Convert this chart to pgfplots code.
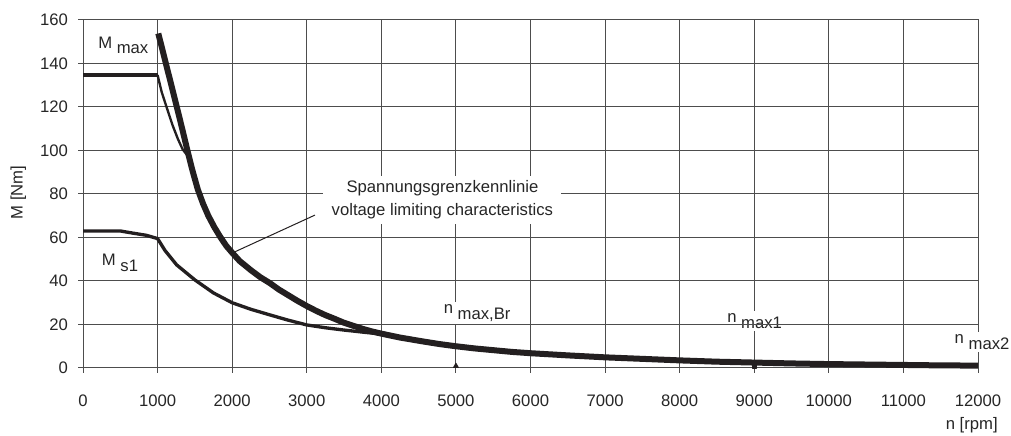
\documentclass[border=0pt]{standalone}
\usepackage{fontspec}
\setmainfont{Liberation Sans}
\usepackage{pgfplots}
\pgfplotsset{compat=1.18}
\definecolor{ink}{HTML}{231F20}
\definecolor{gridc}{HTML}{4D4D4D}
\definecolor{txt}{HTML}{262626}

\begin{document}
\begin{tikzpicture}[font=\fontsize{10}{12}\selectfont]
\begin{axis}[
    at={(0,0)}, anchor=south west,
    scale only axis, width=537pt, height=208.8pt,
    xmin=0, xmax=12000, ymin=0, ymax=160,
    xtick={0,1000,...,12000},
    ytick={0,20,...,160},
    scaled x ticks=false,
    /pgf/number format/.cd, 1000 sep={}, assume math mode=true, /pgfplots/.cd,
    tick label style={font=\fontsize{10}{12}\selectfont, text=txt},
    xticklabel style={yshift=-9.6pt},
    yticklabel style={xshift=-2.5pt},
    tick pos=left, tick align=outside, major tick length=3pt,
    grid=major,
    grid style={gridc, line width=0.6pt},
    axis line style={gridc, line width=0.6pt},
    tick style={gridc, line width=0.6pt},
    clip=false,
    every axis plot/.append style={line join=round},
]
% M_s1
\addplot[ink, line width=2pt] coordinates {
    (0,63) (500,63) (670,62) (850,61) (1000,59.5)
    (1100,54) (1256,47.4) (1500,40.5) (1750,34.5) (2000,30)
    (2250,27) (2507,24.4) (2750,22) (3000,19.8) (3250,18.5)
    (3485,17.5) (3750,16.5) (4000,15.6)
};
% M_max
\addplot[ink, line width=2.4pt] coordinates {(0,134.7) (1000,134.7)};
\addplot[ink, line width=1.4pt] coordinates {
    (1000,134.7) (1054,127) (1120,120) (1200,111.7) (1270,105.5)
    (1336,100.5) (1405,97.5)
};
% voltage limiting characteristic
\addplot[ink, line width=3.6pt] coordinates {
    (1010,153.8) (1111,140) (1185,130) (1258,120) (1330,110)
    (1400,100) (1470,90.5) (1540,82) (1610,75.5) (1680,70)
    (1760,64.8) (1836,60.5) (1920,56.2) (2000,53) (2100,49.2)
    (2250,45) (2375,41.8) (2507,39) (2625,36.1) (2750,33.5)
    (2875,30.9) (3000,28.5) (3125,26.3) (3250,24.3) (3375,22.6)
    (3485,21) (3625,19.4) (3750,18) (3875,16.8) (4000,15.8)
    (4250,14) (4560,12.2) (4780,11) (5000,10) (5250,9)
    (5500,8.2) (5750,7.4) (6000,6.8) (6500,5.8) (7000,4.9)
    (7500,4.2) (8000,3.5) (8500,2.9) (9000,2.5) (9500,2.1)
    (10000,1.8) (10500,1.6) (11000,1.4) (11500,1.2) (12000,1.1)
};
% speed markers
\addplot[only marks, mark=triangle*, mark size=1.8pt, ink] coordinates {(5000,0.9)};
\addplot[only marks, mark=square*, mark size=1.2pt, ink] coordinates {(9000,0.8)};

\draw[ink, line width=0.6pt] (axis cs:2010,53) -- (axis cs:3110,70.3);
\node[fill=white, align=center, inner xsep=5pt, inner ysep=3pt,
      font=\fontsize{10}{13.8}\selectfont, text=txt]
      at (axis cs:4819,77.2) {Spannungsgrenzkennlinie\\voltage limiting characteristics};

\node[anchor=base west, inner sep=0, text=txt] at (axis cs:201,147.1) {M \raisebox{-3pt}{max}};
\node[anchor=base west, inner sep=0, text=txt] at (axis cs:250,47) {M \raisebox{-3.3pt}{s1}};
\node[anchor=base west, inner sep=1.5pt, fill=white, text=txt] at (axis cs:4800,25.1) {n \raisebox{-3.5pt}{max,Br}};
\node[anchor=base west, inner sep=1.5pt, fill=white, text=txt] at (axis cs:8600,21) {n \raisebox{-3.8pt}{max1}};
\draw[gridc, line width=0.6pt] (axis cs:8400,20) -- (axis cs:9700,20);
\node[anchor=base west, inner sep=1.5pt, fill=white, text=txt] at (axis cs:11650,11.3) {n \raisebox{-3.8pt}{max2}};
\end{axis}
\node[rotate=90, text=txt] at (-38.8pt,105.3pt) {M [Nm]};
\node[anchor=base east, inner sep=0, text=txt] at (549pt,-37.2pt) {n [rpm]};
\pgfresetboundingbox
\path[use as bounding box] (-49.8pt,-40.8pt) rectangle (556.8pt,220.8pt);
\end{tikzpicture}
\end{document}
